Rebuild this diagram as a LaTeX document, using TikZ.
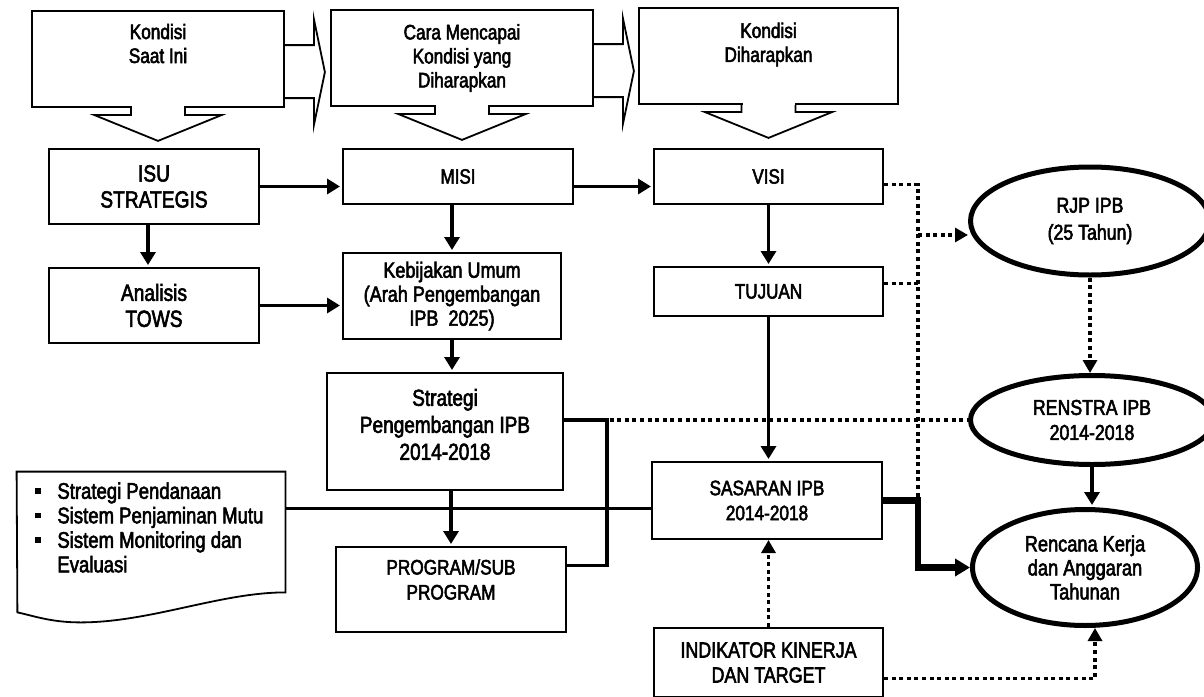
\documentclass[tikz,border=0pt]{standalone}
\usepackage{fontspec}
\setmainfont{Liberation Sans}[FakeStretch=0.82, FakeBold=2.5]
\usetikzlibrary{arrows.meta,shapes.geometric}

\newcommand{\fsz}[2]{\fontsize{#1}{#2}\selectfont}
\newcommand{\bul}{\makebox[11pt][l]{\rule[2.5pt]{2.8pt}{2.8pt}}}
% callout tabs of the top boxes
\newcommand{\tabdown}[1]{%
  \fill[white] (#1.south) ++(-26,-3) rectangle ++(52,6);
  \draw[line width=0.9pt] (#1.south) ++(-27,0) -- ++(0,7) -- ++(-37,0) -- ++(64,26) -- ++(64,-26) -- ++(-37,0) -- ++(0,-7);
}
\newcommand{\tabright}[1]{%
  \draw[line width=0.9pt] (#1.north east) ++(0,35) -- ++(29,0) -- ++(0,-26) -- ++(11,53) -- ++(-11,53) -- ++(0,-27) -- ++(-29,0);
}

\begin{document}
\begin{tikzpicture}[x=0.5pt, y=-0.5pt,
    box/.style={draw, line width=1pt, inner sep=0pt, align=center},
    tabbox/.style={draw, line width=0.9pt, inner sep=0pt},
    oval/.style={draw, ellipse, line width=2.5pt, inner sep=0pt, align=center},
    arr/.style={line width=1.8pt, shorten >=1pt, -{Triangle[length=6.5pt,width=7.5pt]}},
    link/.style={line width=1.8pt},
    heavy/.style={line width=3.2pt, -{Triangle[length=7.5pt,width=8.5pt]}},
    dotline/.style={line width=1.6pt, dash pattern=on 2pt off 1.8pt},
    dotarr/.style={dotline, -{Triangle[length=6.5pt,width=7pt]}}]
    \useasboundingbox (0,0) rectangle (1204,696);

    % Top boxes
    \node[tabbox, minimum width=126pt, minimum height=48pt] (now) at (158,59) {};
    \node[tabbox, minimum width=131pt, minimum height=48pt] (way) at (462,58) {};
    \node[tabbox, minimum width=129.5pt, minimum height=48pt] (goal) at (768.5,56) {};
    \tabdown{now} \tabdown{way} \tabdown{goal}
    \tabright{now} \tabright{way}
    \node[font=\fsz{10.5}{12}, align=center] (nowtxt) at (158,43.5) {Kondisi\\Saat Ini};
    \node[font=\fsz{10.5}{12}, align=center] (waytxt) at (462,58) {Cara Mencapai\\Kondisi yang\\Diharapkan};
    \node[font=\fsz{10.5}{12}, align=center] (goaltxt) at (768.5,44.5) {Kondisi\\Diharapkan};

    % Boxes
    \node[box, minimum width=105pt, minimum height=37.5pt, font=\fsz{11.7}{13}] (isu) at (154,186.5) {ISU\\STRATEGIS};
    \node[box, minimum width=115pt, minimum height=27.5pt, font=\fsz{10.4}{12}] (misi) at (458,176.5) {MISI};
    \node[box, minimum width=114.5pt, minimum height=27.5pt, font=\fsz{10.4}{12}] (visi) at (768.5,176.5) {VISI};
    \node[box, minimum width=105pt, minimum height=37.5pt, font=\fsz{11.7}{13}] (tows) at (154,305.5) {Analisis\\TOWS};
    \node[box, minimum width=109pt, minimum height=43pt, font=\fsz{11}{12}] (kb) at (452,296) {Kebijakan Umum\\(Arah Pengembangan\\IPB\ \ 2025)};
    \node[box, minimum width=114.5pt, minimum height=24.5pt, font=\fsz{10.4}{12}] (tujuan) at (768.5,291.5) {TUJUAN};
    \node[box, minimum width=118pt, minimum height=58.5pt] (strat) at (445,431.5) {};
    \node[font=\fsz{11.6}{13.5}, align=center] (strattxt) at (445,424.5) {Strategi\\Pengembangan IPB\\2014-2018};
    \node[box, minimum width=115pt, minimum height=42.5pt] (prog) at (451,589.5) {};
    \node[font=\fsz{10.5}{12.5}, align=center] (progtxt) at (451,579.5) {PROGRAM/SUB\\PROGRAM};
    \node[box, minimum width=115pt, minimum height=38.5pt, font=\fsz{10.5}{12.5}] (sas) at (767,500.5) {SASARAN IPB\\2014-2018};
    \node[box, minimum width=114.5pt, minimum height=34.5pt, font=\fsz{10.9}{12.5}] (ind) at (768.5,662.5) {INDIKATOR KINERJA\\DAN TARGET};

    % Plans
    \node[oval, minimum width=119.5pt, minimum height=54pt, font=\fsz{10.8}{13.5}] (rjp) at (1090,221) {RJP IPB\\(25 Tahun)};
    \node[oval, minimum width=121.5pt, minimum height=44.5pt, font=\fsz{10.8}{12.5}] (renstra) at (1092,420) {RENSTRA IPB\\2014-2018};
    \node[oval, minimum width=112.5pt, minimum height=58pt, font=\fsz{11.1}{12}] (rkat) at (1085,567.5) {Rencana Kerja\\dan Anggaran\\Tahunan};

    % Document
    \node[minimum width=134pt, minimum height=60pt, inner sep=0pt] (doc) at (151,532) {};
    \draw[line width=0.9pt] (doc.north west) -- (doc.north east) -- (doc.south east) .. controls +(-65,0) and +(70,0) .. ++(-205,30) .. controls +(-30,0) and +(15,3) .. ++(-63,-10) -- cycle;
    \node[anchor=north west, align=left, inner sep=0pt, font=\fsz{11.3}{12.25}] (doctxt) at (35,482) {\bul Strategi Pendanaan\\\bul Sistem Penjaminan Mutu\\\bul Sistem Monitoring dan\\\hspace*{11pt}Evaluasi};

    % Arrows
    \draw[arr] (isu.east) -- (isu.east -| misi.west);
    \draw[arr] (isu.east -| misi.east) -- (isu.east -| visi.west);
    \draw[arr] ([xshift=-3pt]isu.south) -- ([xshift=-3pt]tows.north);
    \draw[arr] (tows.east) -- (tows.east -| kb.west);
    \draw[arr] (kb.north |- misi.south) -- (kb.north);
    \draw[arr] (visi.south) -- (tujuan.north);
    \draw[arr] (kb.south) -- (kb.south |- strat.north);
    \draw[arr] (prog.north |- strat.south) -- (prog.north);
    \draw[arr] (tujuan.south) -- (tujuan.south |- sas.north);
    \draw[arr] (renstra.south) -- (renstra.south |- rkat.north);

    % Lines
    \draw[link] ([yshift=-4pt]sas.west) -- ([yshift=-4pt]sas.west -| doc.east);
    \draw[link] ([yshift=12pt]prog.east) -- ++(40,0) |- (strat.east |- renstra.west);
    \draw[heavy] (sas.east) -- ++(35,0) coordinate (bend) |- (rkat.west);

    % Dotted links
    \draw[dotline] (strat.east |- renstra.west) -- (renstra.west);
    \draw[dotline] ([yshift=-4pt]visi.east) -| (bend);
    \draw[dotline] ([yshift=4pt]tujuan.east) -- ([yshift=4pt]tujuan.east -| bend);
    \draw[dotarr] ([yshift=-7pt]rjp.west -| bend) -- ([yshift=-7pt]rjp.west);
    \draw[dotarr] (rjp.south) -- (rjp.south |- renstra.north);
    \draw[dotarr] (ind.north) -- (ind.north |- sas.south);
    \draw[dotarr] ([yshift=-8pt]ind.east) -| ([xshift=5pt]rkat.south);
\end{tikzpicture}
\end{document}
